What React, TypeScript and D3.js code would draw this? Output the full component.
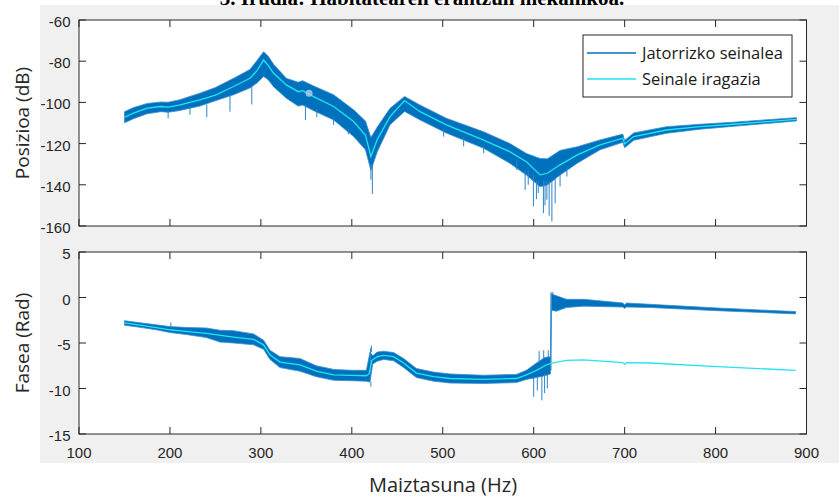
import React, { useEffect, useRef } from 'react';
import * as d3 from 'd3';

// --- top plot: Posizioa (dB) ---
const magFreq = [150, 160, 175, 190, 198, 210, 233, 250, 270, 288, 296, 303, 308, 314, 328, 341, 346, 358, 380, 402, 415, 421, 428, 442, 458, 475, 504, 545, 574, 592, 607, 615, 629, 648, 673, 698, 700, 710, 746, 783, 820, 857, 889];
const magFilt = [-107.2, -105.2, -102.8, -102, -102.3, -101.3, -98.8, -96.5, -92.3, -88.3, -84.5, -79.4, -82, -85.9, -91.5, -94.8, -94.3, -97.2, -102, -109.3, -115.8, -126.3, -118, -106.9, -99.1, -104.5, -110.9, -118.3, -124, -128.8, -135.2, -134.4, -130.3, -125.5, -120.6, -117.4, -120.2, -116.6, -113.4, -111.8, -110.6, -109.3, -108.2];
const magHi = [-104.5, -102.5, -100.5, -99.8, -99.9, -98.8, -95.5, -92.8, -88.3, -84, -79.5, -75.4, -77.5, -81.5, -88.3, -90.2, -89.5, -92, -96.3, -103.6, -109, -117, -112, -102.9, -97.1, -101.3, -107.7, -114.3, -120, -124.8, -127.2, -127.4, -123.3, -121.5, -118.2, -115.4, -118.5, -114.8, -111.8, -110.6, -109.6, -108.4, -107.4];
const magLo = [-109.9, -107.9, -105.5, -104.5, -104.8, -104, -101.8, -99.2, -96.3, -93, -90.5, -87.4, -89, -92.4, -98, -101.8, -101.3, -104, -108.5, -116.6, -123, -133, -124, -110.9, -104.4, -108.5, -114.9, -122.3, -129.6, -135.3, -140.9, -140.1, -135.3, -129.5, -123, -119.4, -122, -118.4, -115, -113, -111.6, -110.2, -109];
// [Hz, from dB, to dB]
const magSpikes = [
  [198, -104, -107.7], [222, -102, -106], [240.5, -101, -107.2], [266, -96, -104.5], [290, -92, -101],
  [349, -101, -108.5], [361.5, -103, -107.2], [380, -107, -110.9], [396, -113, -115.5],
  [421, -130, -137.6], [422.6, -130, -144.4], [501, -113, -116.6], [523, -117, -121.4], [545, -121, -124.7],
  [581.5, -128, -132.8], [590.6, -133, -142.5], [594, -133, -140], [599.7, -135, -150.5], [603, -138, -147],
  [605, -138, -144], [610.7, -138, -153.8], [612.5, -138, -150], [614.5, -138, -147.3], [617, -138, -155],
  [620, -138, -157.8], [623.6, -137, -149], [629, -134, -140.8], [636.5, -132, -136],
];
const markerPoint = [353, -95.5];

// --- bottom plot: Fasea (Rad) ---
const phFreq = [150, 165, 185, 200, 202, 220, 240, 270, 292, 303, 310, 321, 343, 361, 380, 400, 416, 419, 422, 428, 435, 446, 457, 471, 490, 508, 545, 581, 592, 603, 614, 620, 636, 655, 698, 700, 702, 728, 802, 888];
const phFilt = [-2.8, -3.0, -3.3, -3.55, -3.57, -3.75, -3.95, -4.35, -4.6, -5.2, -6.3, -7.1, -7.4, -8.1, -8.5, -8.55, -8.6, -8.4, -6.9, -6.5, -6.35, -6.5, -7.2, -8.3, -8.7, -8.9, -9.0, -8.9, -8.5, -8.0, -7.4, -7.2, -6.9, -6.85, -7.15, -7.35, -7.15, -7.2, -7.6, -8.0];
const phOrigFreq = [150, 165, 185, 200, 220, 240, 255, 270, 292, 303, 310, 321, 343, 361, 380, 400, 416, 420, 423, 428, 435, 446, 457, 471, 490, 508, 545, 581, 592, 603, 612, 618.5, 619.5, 625, 636, 655, 698, 700, 702, 728, 802, 888];
const phOrigHi = [-2.55, -2.75, -3.0, -3.2, -3.3, -3.35, -3.6, -3.65, -4.0, -4.7, -5.8, -6.5, -6.7, -7.5, -7.9, -8.0, -8.0, -6.0, -6.4, -6.0, -5.9, -6.05, -6.7, -7.8, -8.2, -8.4, -8.55, -8.45, -8.0, -7.2, -6.6, -6.5, 0.4, 0.2, -0.2, -0.2, -0.6, -0.8, -0.6, -0.75, -1.15, -1.55];
const phOrigLo = [-3.05, -3.25, -3.55, -3.85, -4.1, -4.4, -4.9, -5.0, -5.2, -5.7, -6.8, -7.7, -8.1, -8.7, -9.1, -9.15, -9.2, -9.3, -7.3, -7.0, -6.8, -6.95, -7.7, -8.8, -9.2, -9.4, -9.45, -9.35, -9.0, -8.8, -8.6, -8.4, -1.4, -1.5, -1.1, -0.95, -1.05, -1.2, -1.05, -1.1, -1.45, -1.8];
const phSpikes = [
  [201, -3.3, -2.75], [420.5, -8.5, -5.6], [421, -9.3, -9.8], [421.5, -6, -5.3],
  [600, -8.8, -10.9], [604, -8.6, -10.2], [609, -8.6, -11.3], [612, -8.4, -10.5], [615, -8.4, -10.0],
  [606, -7.2, -5.9], [611, -6.8, -5.8], [616, -6.6, -5.8], [619, -8, 0.6], [621, 0.2, 0.6],
];

const xTicks = [100, 200, 300, 400, 500, 600, 700, 800, 900];
const magTicks = [-60, -80, -100, -120, -140, -160];
const phTicks = [5, 0, -5, -10, -15];
const legendLabels = ['Jatorrizko seinalea', 'Seinale iragazia'];

const BLUE = '#0072BD';
const CYAN = '#22e4f2';
const AXIS = '#262626';

function App() {
  const svgRef = useRef(null);

  useEffect(() => {
    const svg = d3.select(svgRef.current);
    svg.selectAll('*').remove();

    const left = 79, right = 806.5;
    const x = d3.scaleLinear().domain([100, 900]).range([left, right]);

    // title (cut off at top of the picture, as in the source)
    svg.append('text')
      .attr('x', 422).attr('y', 5)
      .attr('text-anchor', 'middle')
      .style('font-family', '"Liberation Serif", serif')
      .style('font-weight', 'bold')
      .style('font-size', '21px')
      .text('3. Irudia: Habitatearen erantzun mekanikoa.');

    svg.append('rect')
      .attr('x', 40).attr('y', 5).attr('width', 799).attr('height', 458)
      .attr('fill', '#f0f0f0');

    function panel(id, top, bottom, domain, yTicks, band, filt, spikes, showX) {
      const y = d3.scaleLinear().domain(domain).range([bottom, top]);
      const g = svg.append('g');
      g.append('rect')
        .attr('x', left).attr('y', top).attr('width', right - left).attr('height', bottom - top)
        .attr('fill', '#fff');

      svg.append('clipPath').attr('id', id)
        .append('rect').attr('x', left).attr('y', top).attr('width', right - left).attr('height', bottom - top);
      const plot = g.append('g').attr('clip-path', `url(#${id})`);

      const area = d3.area()
        .x(i => x(band.f[i]))
        .y0(i => y(band.lo[i]))
        .y1(i => y(band.hi[i]));
      plot.append('path')
        .attr('d', area(d3.range(band.f.length)))
        .attr('fill', BLUE)
        .attr('stroke', '#3a8fd0')
        .attr('stroke-width', 0.8);

      plot.selectAll('line.spike').data(spikes).enter().append('line')
        .attr('x1', d => x(d[0])).attr('x2', d => x(d[0]))
        .attr('y1', d => y(d[1])).attr('y2', d => y(d[2]))
        .attr('stroke', '#2a84c9').attr('stroke-width', 1);

      const line = d3.line()
        .x(i => x(filt.f[i]))
        .y(i => y(filt.v[i]));
      plot.append('path')
        .attr('d', line(d3.range(filt.f.length)))
        .attr('fill', 'none')
        .attr('stroke', CYAN)
        .attr('stroke-width', 1.3);

      // box + inward ticks on all sides
      g.append('rect')
        .attr('x', left).attr('y', top).attr('width', right - left).attr('height', bottom - top)
        .attr('fill', 'none').attr('stroke', AXIS).attr('stroke-width', 1);
      xTicks.forEach(t => {
        g.append('line').attr('x1', x(t)).attr('x2', x(t)).attr('y1', bottom).attr('y2', bottom - 7).attr('stroke', AXIS);
        g.append('line').attr('x1', x(t)).attr('x2', x(t)).attr('y1', top).attr('y2', top + 7).attr('stroke', AXIS);
        if (showX) {
          g.append('text').attr('x', x(t)).attr('y', bottom + 24)
            .attr('text-anchor', 'middle')
            .attr('fill', AXIS)
            .style('font-family', '"Liberation Sans", Arial, sans-serif')
            .style('font-size', '15px')
            .text(t);
        }
      });
      yTicks.forEach(t => {
        g.append('line').attr('x1', left).attr('x2', left + 7).attr('y1', y(t)).attr('y2', y(t)).attr('stroke', AXIS);
        g.append('line').attr('x1', right).attr('x2', right - 7).attr('y1', y(t)).attr('y2', y(t)).attr('stroke', AXIS);
        g.append('text').attr('x', left - 8.5).attr('y', y(t) + 7)
          .attr('text-anchor', 'end')
          .attr('fill', AXIS)
          .style('font-family', '"Liberation Sans", Arial, sans-serif')
          .style('font-size', '15px')
          .text(t);
      });
      return { y, g };
    }

    const top = panel('clipMag', 20, 226, [-160, -60], magTicks,
      { f: magFreq, hi: magHi, lo: magLo }, { f: magFreq, v: magFilt }, magSpikes, false);
    panel('clipPh', 252, 434, [-15, 5], phTicks,
      { f: phOrigFreq, hi: phOrigHi, lo: phOrigLo }, { f: phFreq, v: phFilt }, phSpikes, true);

    // data tip marker
    top.g.append('circle')
      .attr('cx', x(markerPoint[0])).attr('cy', top.y(markerPoint[1]))
      .attr('r', 3.5).attr('fill', '#a9cdec').attr('opacity', 0.85);

    // legend
    const lg = svg.append('g');
    lg.append('rect').attr('x', 583).attr('y', 35).attr('width', 209).attr('height', 62)
      .attr('fill', '#fff').attr('stroke', AXIS).attr('stroke-width', 1);
    [BLUE, CYAN].forEach((c, i) => {
      const ly = 53 + i * 26;
      lg.append('line').attr('x1', 587).attr('x2', 636).attr('y1', ly).attr('y2', ly)
        .attr('stroke', c).attr('stroke-width', 1.3);
      lg.append('text').attr('x', 642).attr('y', ly + 5.5)
        .attr('fill', '#1a1a1a')
        .style('font-family', '"Open Sans", sans-serif')
        .style('font-size', '16.5px')
        .text(legendLabels[i]);
    });

    // axis labels
    const labelStyle = (sel, size) => sel
      .attr('fill', AXIS)
      .attr('text-anchor', 'middle')
      .style('font-family', '"Open Sans", sans-serif')
      .style('font-size', size);
    svg.append('text').attr('transform', 'translate(29,123) rotate(-90)').call(labelStyle, '19px').text('Posizioa (dB)');
    svg.append('text').attr('transform', 'translate(29,343) rotate(-90)').call(labelStyle, '19px').text('Fasea (Rad)');
    svg.append('text').attr('x', 443).attr('y', 492).call(labelStyle, '20px').text('Maiztasuna (Hz)');
  }, []);

  return (
    <svg ref={svgRef} width={839} height={497}
      style={{ position: 'absolute', left: 0, top: 0, background: '#fff' }} />
  );
}

export default App;
